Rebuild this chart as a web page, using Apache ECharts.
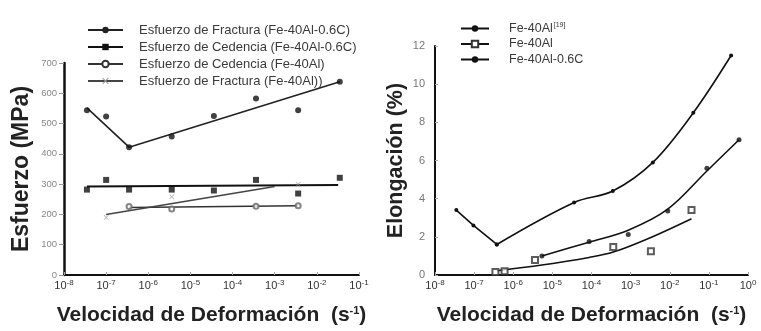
<!DOCTYPE html>
<html>
<head>
<meta charset="utf-8">
<script src="https://cdn.jsdelivr.net/npm/echarts@6/dist/echarts.min.js"></script>
<style>
  html, body { margin: 0; padding: 0; background: #fff; }
  #chart { width: 761px; height: 331px; }
</style>
</head>
<body>
<div id="chart"></div>
<script>
// ---- Panel izquierdo: esfuerzo (MPa) frente a velocidad de deformación (s^-1) ----
const fracturaC_puntos = [[3.5e-8, 544], [1e-7, 523], [3.5e-7, 422], [3.6e-6, 457], [3.6e-5, 525], [3.6e-4, 583], [3.6e-3, 544], [3.5e-2, 638]];
const fracturaC_ajuste = [[3.5e-8, 552], [3.5e-7, 422], [3.5e-2, 638]];
const cedenciaC_puntos = [[3.5e-8, 282], [1e-7, 314], [3.5e-7, 282], [3.6e-6, 282], [3.6e-5, 279], [3.6e-4, 314], [3.6e-3, 269], [3.5e-2, 321]];
const cedenciaC_ajuste = [[3.5e-8, 292], [3.2e-2, 297]];
const cedencia_puntos = [[3.5e-7, 226], [3.6e-6, 218], [3.6e-4, 227], [3.6e-3, 229]];
const cedencia_ajuste = [[3.5e-7, 223], [3.6e-3, 229]];
const fractura_puntos = [[1e-7, 190], [3.6e-6, 258], [3.6e-3, 300]];
const fractura_ajuste = [[1e-7, 200], [1e-3, 292]];

// ---- Panel derecho: elongación (%) frente a velocidad de deformación (s^-1) ----
const elongC = [[3.5e-8, 3.4], [9.6e-8, 2.6], [3.8e-7, 1.6], [3.6e-5, 3.8], [3.5e-4, 4.4], [3.7e-3, 5.9], [4e-2, 8.5], [0.37, 11.5]];
const elong19_puntos = [[5.4e-6, 1.0], [8.7e-5, 1.76], [8.7e-4, 2.12], [8.9e-3, 3.36], [8.9e-2, 5.59], [0.59, 7.09]];
const elong19_ajuste = [[5.4e-6, 1.0], [8.7e-5, 1.72], [8.7e-4, 2.35], [8.9e-3, 3.45], [8.9e-2, 5.45], [0.59, 7.09]];
const elong_puntos = [[3.5e-7, 0.16], [6e-7, 0.2], [3.6e-6, 0.78], [3.6e-4, 1.47], [3.3e-3, 1.24], [3.6e-2, 3.41]];
const elong_ajuste = [[3.8e-7, 0.22], [5.4e-6, 0.52], [8.7e-5, 0.92], [3.6e-4, 1.2], [3.3e-3, 1.97], [3.6e-2, 2.95]];

// Rótulos de leyenda
const leyendaIzq = [
  'Esfuerzo de Fractura (Fe-40Al-0.6C)',
  'Esfuerzo de Cedencia (Fe-40Al-0.6C)',
  'Esfuerzo de Cedencia (Fe-40Al)',
  'Esfuerzo de Fractura (Fe-40Al))'
];
const leyendaDer = ['Fe-40Al[19]', 'Fe-40Al', 'Fe-40Al-0.6C'];

const FONT = 'Liberation Sans, Arial, sans-serif';
const cruz = 'path://M0,1 L1,0 L5,4 L9,0 L10,1 L6,5 L10,9 L9,10 L5,6 L1,10 L0,9 L4,5 Z';

function potencia(v) {
  const e = Math.round(Math.log10(v));
  return '{b|10}{s|' + e + '}';
}

function ejeX(idx, max, gap) {
  return {
    type: 'log', logBase: 10, gridIndex: idx, min: 1e-8, max: max, splitNumber: 10,
    name: '{n|Velocidad de Deformación  (s}{s|-1}{n|)}',
    nameLocation: 'middle', nameGap: gap,
    nameTextStyle: {
      rich: {
        n: { fontFamily: FONT, fontSize: 21, fontWeight: 'bold', color: '#222' },
        s: { fontFamily: FONT, fontSize: 11, fontWeight: 'bold', color: '#222', verticalAlign: 'top', padding: [0, 0, 10, 0] }
      }
    },
    axisLine: { lineStyle: { color: '#111', width: 2 } },
    axisTick: { inside: true, length: 3, lineStyle: { color: '#aaa' } },
    splitLine: { show: false },
    axisLabel: {
      margin: 4, formatter: potencia,
      rich: {
        b: { fontFamily: FONT, fontSize: 11, color: '#333' },
        s: { fontFamily: FONT, fontSize: 8, color: '#333', verticalAlign: 'top', padding: [0, 0, 6, 0] }
      }
    }
  };
}

const option = {
  animation: false,
  backgroundColor: '#fff',
  grid: [
    { left: 64, right: 402, top: 63, bottom: 52 },
    { left: 435, right: 13, top: 46, bottom: 53 }
  ],
  xAxis: [ejeX(0, 1e-1, 30), ejeX(1, 1, 30)],
  yAxis: [
    {
      type: 'value', gridIndex: 0, min: 0, max: 700, interval: 100,
      name: 'Esfuerzo (MPa)', nameLocation: 'middle', nameGap: 31,
      nameTextStyle: { fontFamily: FONT, fontSize: 23, fontWeight: 'bold', color: '#222' },
      axisLine: { show: true, lineStyle: { color: '#111', width: 2.5 } },
      axisTick: { show: true, length: 5, lineStyle: { color: '#999' } },
      splitLine: { show: false },
      axisLabel: { fontFamily: FONT, fontSize: 9.5, color: '#888', margin: 7 }
    },
    {
      type: 'value', gridIndex: 1, min: 0, max: 12, interval: 2,
      name: 'Elongación (%)', nameLocation: 'middle', nameGap: 28,
      nameTextStyle: { fontFamily: FONT, fontSize: 21.5, fontWeight: 'bold', color: '#222' },
      axisLine: { show: true, lineStyle: { color: '#111', width: 2 } },
      axisTick: { show: true, inside: true, length: 3, lineStyle: { color: '#aaa' } },
      splitLine: { show: false },
      axisLabel: { fontFamily: FONT, fontSize: 11, color: '#777', margin: 10 }
    }
  ],
  legend: [
    {
      data: leyendaIzq, orient: 'vertical', left: 82, top: 18,
      itemWidth: 35, itemHeight: 8, itemGap: 3, selectedMode: false,
      textStyle: { fontFamily: FONT, fontSize: 13, color: '#3a3a3a', lineHeight: 14, padding: [0, 0, 0, 11] }
    },
    {
      data: leyendaDer, orient: 'vertical', left: 455, top: 17,
      itemWidth: 28, itemHeight: 8, itemGap: 2.5, selectedMode: false,
      formatter: function (n) { return n === 'Fe-40Al[19]' ? '{t|Fe-40Al}{s|[19]}' : '{t|' + n + '}'; },
      textStyle: {
        fontFamily: FONT, fontSize: 12.5, color: '#3a3a3a', lineHeight: 13, padding: [0, 0, 0, 15],
        rich: {
          t: { fontFamily: FONT, fontSize: 12.5, color: '#3a3a3a' },
          s: { fontFamily: FONT, fontSize: 7, color: '#3a3a3a', verticalAlign: 'top', padding: [0, 0, 7, 1] }
        }
      }
    }
  ],
  series: [
    // Panel izquierdo: rectas de ajuste (con símbolo de leyenda) y puntos medidos
    {
      name: leyendaIzq[0], type: 'line', xAxisIndex: 0, yAxisIndex: 0, data: fracturaC_ajuste,
      symbol: 'circle', showSymbol: false, lineStyle: { color: '#222', width: 1.6 }, itemStyle: { color: '#222' }, z: 3
    },
    {
      name: 'pts-fractura-C', type: 'scatter', xAxisIndex: 0, yAxisIndex: 0, data: fracturaC_puntos,
      symbol: 'circle', symbolSize: 6, itemStyle: { color: '#111' }, z: 4
    },
    {
      name: leyendaIzq[1], type: 'line', xAxisIndex: 0, yAxisIndex: 0, data: cedenciaC_ajuste,
      symbol: 'rect', showSymbol: false, lineStyle: { color: '#111', width: 2 }, itemStyle: { color: '#111' }, z: 3
    },
    {
      name: 'pts-cedencia-C', type: 'scatter', xAxisIndex: 0, yAxisIndex: 0, data: cedenciaC_puntos,
      symbol: 'rect', symbolSize: 6, itemStyle: { color: '#111' }, z: 4
    },
    {
      name: leyendaIzq[2], type: 'line', xAxisIndex: 0, yAxisIndex: 0, data: cedencia_ajuste,
      symbol: 'emptyCircle', showSymbol: false, lineStyle: { color: '#333', width: 1.5 }, itemStyle: { color: '#333' }, z: 3
    },
    {
      name: 'pts-cedencia', type: 'scatter', xAxisIndex: 0, yAxisIndex: 0, data: cedencia_puntos,
      symbol: 'emptyCircle', symbolSize: 5, itemStyle: { color: '#666', borderWidth: 1 }, z: 4
    },
    {
      name: leyendaIzq[3], type: 'line', xAxisIndex: 0, yAxisIndex: 0, data: fractura_ajuste,
      symbol: cruz, showSymbol: false, lineStyle: { color: '#444', width: 1.6 }, itemStyle: { color: '#999' }, z: 3
    },
    {
      name: 'pts-fractura', type: 'scatter', xAxisIndex: 0, yAxisIndex: 0, data: fractura_puntos,
      symbol: cruz, symbolSize: 5, itemStyle: { color: '#999' }, z: 4
    },

    // Panel derecho
    {
      name: leyendaDer[2], type: 'line', xAxisIndex: 1, yAxisIndex: 1, data: elongC.slice(0, 3),
      symbol: 'circle', symbolSize: 4, showSymbol: true, lineStyle: { color: '#111', width: 1.6 }, itemStyle: { color: '#111' }, z: 3
    },
    {
      name: 'curva-C', type: 'line', xAxisIndex: 1, yAxisIndex: 1, data: elongC.slice(2),
      smooth: 0.35, symbol: 'circle', symbolSize: 4, showSymbol: true, lineStyle: { color: '#111', width: 1.6 }, itemStyle: { color: '#111' }, z: 3
    },
    {
      name: leyendaDer[0], type: 'line', xAxisIndex: 1, yAxisIndex: 1, data: elong19_ajuste,
      smooth: 0.35, symbol: 'circle', showSymbol: false, lineStyle: { color: '#111', width: 1.6 }, itemStyle: { color: '#111' }, z: 3
    },
    {
      name: 'pts-19', type: 'scatter', xAxisIndex: 1, yAxisIndex: 1, data: elong19_puntos,
      symbol: 'circle', symbolSize: 5, itemStyle: { color: '#111' }, z: 4
    },
    {
      name: leyendaDer[1], type: 'line', xAxisIndex: 1, yAxisIndex: 1, data: elong_ajuste,
      smooth: 0.35, symbol: 'emptyRect', showSymbol: false, lineStyle: { color: '#111', width: 1.6 }, itemStyle: { color: '#333' }, z: 3
    },
    {
      name: 'pts-fe40al', type: 'scatter', xAxisIndex: 1, yAxisIndex: 1, data: elong_puntos,
      symbol: 'emptyRect', symbolSize: 6, itemStyle: { color: '#333', borderWidth: 1 }, z: 4
    }
  ]
};

const chart = echarts.init(document.getElementById('chart'), null, { renderer: 'canvas' });
chart.setOption(option);
</script>
</body>
</html>
